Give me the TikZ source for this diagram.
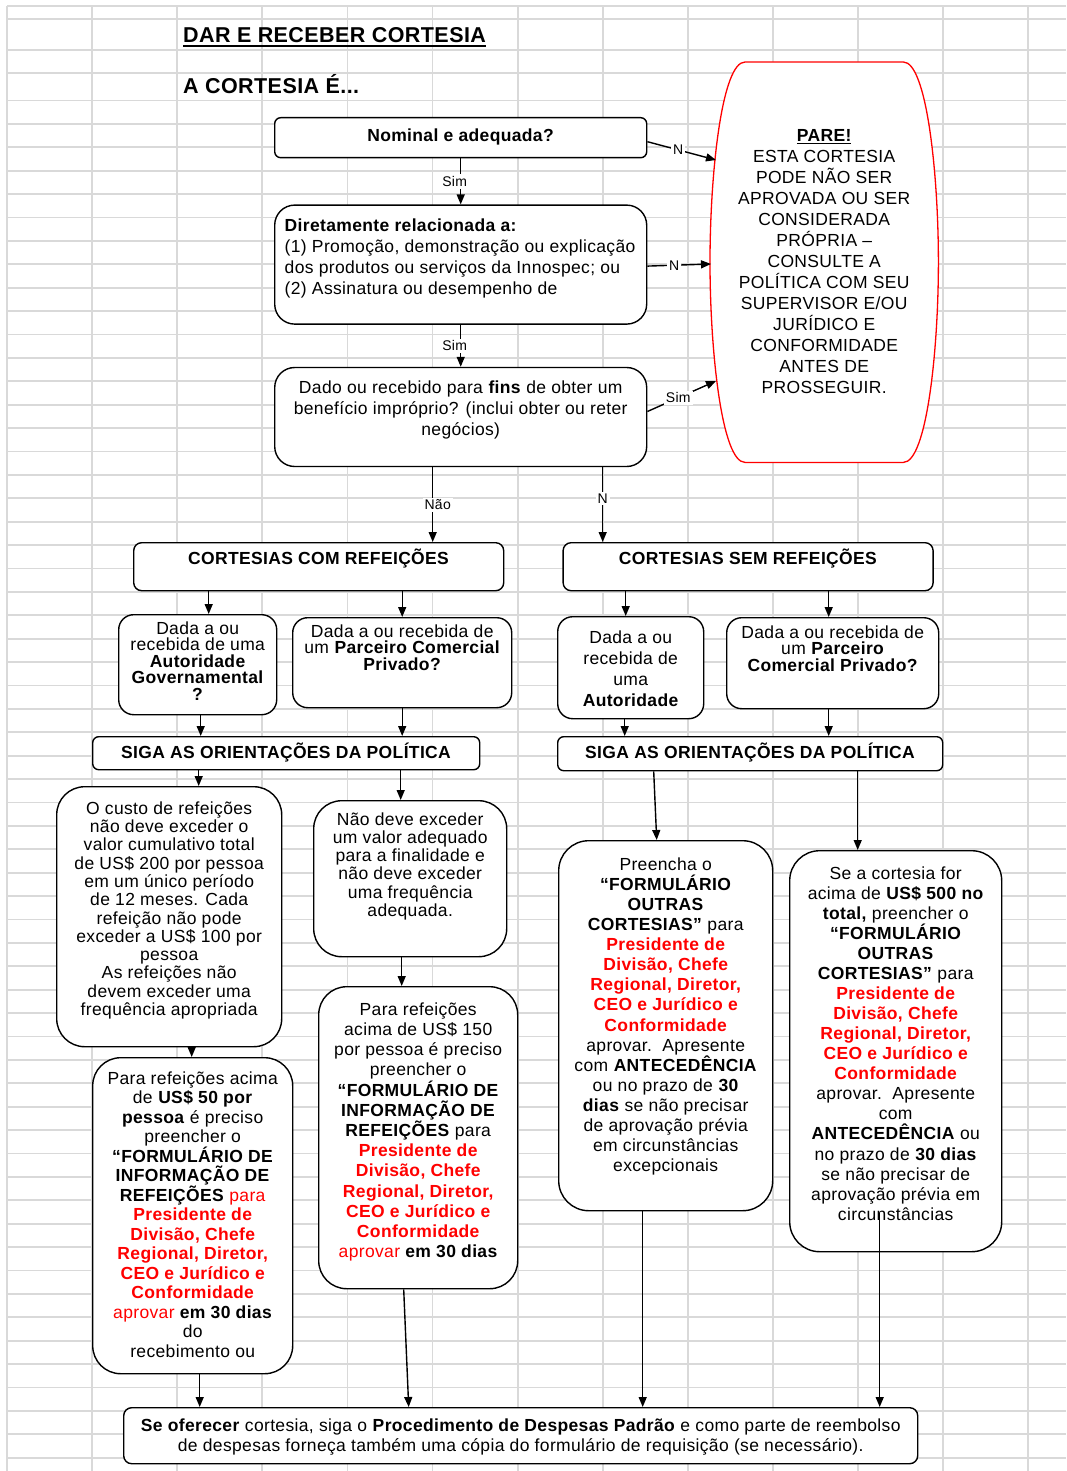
\documentclass[tikz,border=0pt]{standalone}
\usepackage{fontspec}
\setmainfont{Liberation Sans}[LetterSpace=2]
\usetikzlibrary{arrows.meta,positioning,backgrounds}

% text block of a box: width, height, top pad, leading
\newcommand{\boxtxt}[6][\centering]{%
  \parbox[c][#3pt][t]{#2pt}{\fontsize{17.5}{#5}\selectfont
    \lineskiplimit=-\maxdimen #1\vspace*{#4pt}\leavevmode\par #6\par}}
\newcommand{\rb}[1]{\textcolor{red}{\bfseries #1}}

\begin{document}
\begin{tikzpicture}[
    x=1pt, y=-1pt,
    box/.style={draw, line width=1.4pt, fill=white, inner sep=0pt, rounded corners=#1},
    box/.default=6pt,
    arrow/.style={-{Triangle[length=10pt,width=8pt]}, line width=1.4pt},
    lbl/.style={fill=white, inner sep=2pt, font=\fontsize{14}{14}\selectfont},
    gridline/.style={gray!30, line width=1.8pt},
    heading/.style={anchor=base west, inner sep=0pt, font=\fontsize{21.5}{24}\selectfont\bfseries}
]
\useasboundingbox (0,0) rectangle (1066,1471);

% Sheet grid
\begin{scope}[on background layer]
  \foreach \gx in {0,...,12}
    \draw[gridline] ({7+85.1*\gx},6) -- ({7+85.1*\gx},1471);
  \foreach \gy in {6,19,50,73}
    \draw[gridline] (7,\gy) -- (1066,\gy);
  \foreach \gr in {0,...,58}
    \draw[gridline] (7,{100.5+23.4*\gr}) -- (1066,{100.5+23.4*\gr});
\end{scope}

% Headings
\node[heading] (title) at (183,43) {DAR E RECEBER CORTESIA};
\draw[line width=2pt] ([yshift=-3pt]title.base west) -- ([yshift=-3pt]title.base east);
\node[heading] (intro) at (183,94) {A CORTESIA É...};

% Questions
\node[box, anchor=north west] (nominal) at (274,117)
  {\boxtxt{372}{40}{3.5}{20}{\textbf{Nominal e adequada?}}};
\node[box=20pt, below=46pt of nominal] (relac)
  {\boxtxt[\raggedright\leftskip=10pt]{372}{119}{5.5}{21}{\textbf{Diretamente relacionada a:}\\
   (1) Promoção, demonstração ou explicação\\
   dos produtos ou serviços da Innospec; ou\\
   (2) Assinatura ou desempenho de}};
\node[box=20pt, below=42pt of relac] (fins)
  {\boxtxt{372}{99}{4.5}{21}{Dado ou recebido para \textbf{fins} de obter um\\
   benefício impróprio? (inclui obter ou reter\\ negócios)}};

% Stop
\node[anchor=north west, inner sep=0pt] (pare) at (710,62)
  {\boxtxt{228}{400}{58.5}{21}{\textbf{\underline{PARE!}}\\ ESTA CORTESIA\\ PODE NÃO SER\\
   APROVADA OU SER\\ CONSIDERADA\\ PRÓPRIA –\\ CONSULTE A\\ POLÍTICA COM SEU\\
   SUPERVISOR E/OU\\ JURÍDICO E\\ CONFORMIDADE\\ ANTES DE\\ PROSSEGUIR.}};
\begin{scope}[on background layer]
\draw[red, line width=1.3pt, fill=white]
  ([xshift=35pt]pare.north west) -- ([xshift=-35pt]pare.north east)
  .. controls ([xshift=-12pt]pare.north east) and ([yshift=90pt]pare.east) .. (pare.east)
  .. controls ([yshift=-90pt]pare.east) and ([xshift=-12pt]pare.south east) .. ([xshift=-35pt]pare.south east)
  -- ([xshift=35pt]pare.south west)
  .. controls ([xshift=12pt]pare.south west) and ([yshift=-90pt]pare.west) .. (pare.west)
  .. controls ([yshift=90pt]pare.west) and ([xshift=12pt]pare.north west) .. cycle;
\end{scope}
\coordinate (pin1) at (716,160);
\coordinate (pin2) at (711,264);
\coordinate (pin3) at (716,381);

% Meals / other courtesies
\node[box=8pt, anchor=north west] (ccr) at (133,542)
  {\boxtxt{370}{48}{1.5}{20}{\textbf{CORTESIAS COM REFEIÇÕES}}};
\node[box=8pt, right=58pt of ccr] (csr)
  {\boxtxt{370}{48}{1.5}{20}{\textbf{CORTESIAS SEM REFEIÇÕES}}};

\node[box=15pt, anchor=north west] (govA) at (118,614)
  {\boxtxt{158}{100}{3}{16.5}{Dada a ou\\ recebida de uma\\ \textbf{Autoridade}\\ \textbf{Governamental}\\ \textbf{?}}};
\node[box=15pt, anchor=north west] (privA) at (292,617)
  {\boxtxt{219}{90}{3}{16.5}{Dada a ou recebida de\\ um \textbf{Parceiro Comercial}\\ \textbf{Privado?}}};
\node[box=15pt, anchor=north west] (govB) at (557,616)
  {\boxtxt{146}{102}{5.5}{21}{Dada a ou\\ recebida de\\ uma\\ \textbf{Autoridade}}};
\node[box=15pt, anchor=north west] (privB) at (726,617)
  {\boxtxt{212}{91}{4}{16.5}{Dada a ou recebida de\\ um \textbf{Parceiro}\\ \textbf{Comercial Privado?}}};

\node[box, anchor=north west] (sigaA) at (92,736)
  {\boxtxt{387}{33}{1.5}{20}{\textbf{SIGA AS ORIENTAÇÕES DA POLÍTICA}}};
\node[box, anchor=north west] (sigaB) at (557,736)
  {\boxtxt{385}{34}{1.5}{20}{\textbf{SIGA AS ORIENTAÇÕES DA POLÍTICA}}};

% Rules
\node[box=28pt, anchor=north west] (meal200) at (56,786)
  {\boxtxt{225}{260}{9.2}{18.3}{O custo de refeições\\ não deve exceder o\\ valor cumulativo total\\
   de US\$ 200 por pessoa\\ em um único período\\ de 12 meses. Cada\\ refeição não pode\\
   exceder a US\$ 100 por\\ pessoa\\ As refeições não\\ devem exceder uma\\ frequência apropriada}};
\node[box=28pt, anchor=north west] (mealok) at (313,800)
  {\boxtxt{193}{156}{6.3}{18.2}{Não deve exceder\\ um valor adequado\\ para a finalidade e\\
   não deve exceder\\ uma frequência\\ adequada.}};
\node[box=28pt, anchor=north west] (form50) at (92,1057)
  {\boxtxt{200}{316}{7}{19.5}{Para refeições acima\\ de \textbf{US\$ 50 por}\\ \textbf{pessoa} é preciso\\
   preencher o\\ \textbf{“FORMULÁRIO DE}\\ \textbf{INFORMAÇÃO DE}\\ \textbf{REFEIÇÕES} \textcolor{red}{para}\\
   \rb{Presidente de}\\ \rb{Divisão, Chefe}\\ \rb{Regional, Diretor,}\\ \rb{CEO e Jurídico e}\\
   \rb{Conformidade}\\ \textcolor{red}{aprovar} \textbf{em 30 dias}\\ do\\ recebimento ou}};
\node[box=28pt, anchor=north west] (form150) at (318,986)
  {\boxtxt{199}{302}{8.3}{20.2}{Para refeições\\ acima de US\$ 150\\ por pessoa é preciso\\
   preencher o\\ \textbf{“FORMULÁRIO DE}\\ \textbf{INFORMAÇÃO DE}\\ \textbf{REFEIÇÕES} para\\
   \rb{Presidente de}\\ \rb{Divisão, Chefe}\\ \rb{Regional, Diretor,}\\ \rb{CEO e Jurídico e}\\
   \rb{Conformidade}\\ \textcolor{red}{aprovar} \textbf{em 30 dias}}};
\node[box=30pt, anchor=north west] (other) at (558,840)
  {\boxtxt{214}{370}{9.4}{20.1}{Preencha o\\ \textbf{“FORMULÁRIO}\\ \textbf{OUTRAS}\\ \textbf{CORTESIAS”} para\\
   \rb{Presidente de}\\ \rb{Divisão, Chefe}\\ \rb{Regional, Diretor,}\\ \rb{CEO e Jurídico e}\\
   \rb{Conformidade}\\ aprovar.\ \ Apresente\\ com \textbf{ANTECEDÊNCIA}\\ ou no prazo de \textbf{30}\\
   \textbf{dias} se não precisar\\ de aprovação prévia\\ em circunstâncias\\ excepcionais}};
\node[box=30pt, anchor=north west] (other500) at (789,850)
  {\boxtxt{212}{401}{8.4}{20.06}{Se a cortesia for\\ acima de \textbf{US\$ 500 no}\\ \textbf{total,} preencher o\\
   \textbf{“FORMULÁRIO}\\ \textbf{OUTRAS}\\ \textbf{CORTESIAS”} para\\
   \rb{Presidente de}\\ \rb{Divisão, Chefe}\\ \rb{Regional, Diretor,}\\ \rb{CEO e Jurídico e}\\
   \rb{Conformidade}\\ aprovar.\ \ Apresente\\ com\\ \textbf{ANTECEDÊNCIA} ou\\ no prazo de \textbf{30 dias}\\
   se não precisar de\\ aprovação prévia em\\ circunstâncias}};

% Final step
\node[box=8pt, anchor=north west] (fin) at (123,1407)
  {\boxtxt{794}{56}{3.5}{20}{\textbf{Se oferecer} cortesia, siga o \textbf{Procedimento de Despesas Padrão} e como parte de reembolso\\
   de despesas forneça também uma cópia do formulário de requisição (se necessário).}};

% Arrows
\draw[arrow] (nominal) -- node[lbl, xshift=-6pt]{Sim} (relac);
\draw[arrow] (relac) -- node[lbl, xshift=-6pt]{Sim} (fins);
\draw[arrow] ([xshift=-28pt]fins.south) -- node[lbl, xshift=5pt]{Não} ([xshift=-28pt]fins.south |- ccr.north);
\draw[arrow] ([xshift=142pt]fins.south) -- node[lbl, pos=0.42]{N} ([xshift=142pt]fins.south |- csr.north);
\draw[arrow] ([yshift=-4pt]nominal.east) -- node[lbl, pos=0.45]{N} (pin1);
\draw[arrow] ([yshift=-1.5pt]relac.east) -- node[lbl, pos=0.42]{N} (pin2);
\draw[arrow] ([yshift=5.5pt]fins.east) -- node[lbl, pos=0.45]{Sim} (pin3);

\draw[arrow] ([xshift=11pt]govA.north |- ccr.south) -- ([xshift=11pt]govA.north);
\draw[arrow] (privA.north |- ccr.south) -- (privA.north);
\draw[arrow] ([xshift=-5pt]govB.north |- csr.south) -- ([xshift=-5pt]govB.north);
\draw[arrow] ([xshift=-4pt]privB.north |- csr.south) -- ([xshift=-4pt]privB.north);
\draw[arrow] ([xshift=3pt]govA.south) -- ([xshift=3pt]govA.south |- sigaA.north);
\draw[arrow] (privA.south) -- (privA.south |- sigaA.north);
\draw[arrow] ([xshift=-6pt]govB.south) -- ([xshift=-6pt]govB.south |- sigaB.north);
\draw[arrow] ([xshift=-4pt]privB.south) -- ([xshift=-4pt]privB.south |- sigaB.north);

\draw[arrow] ([xshift=29.5pt]meal200.north |- sigaA.south) -- ([xshift=29.5pt]meal200.north);
\draw[arrow] ([xshift=-9.5pt]mealok.north |- sigaA.south) -- ([xshift=-9.5pt]mealok.north);
\draw[arrow] ([xshift=-1pt]form50.north |- meal200.south) -- ([xshift=-1pt]form50.north);
\draw[arrow] ([xshift=-16.5pt]form150.north |- mealok.south) -- ([xshift=-16.5pt]form150.north);
\draw[arrow] ([xshift=-96.5pt]sigaB.south) -- ([xshift=-9pt]other.north);
\draw[arrow] ([xshift=-38pt]other500.north |- sigaB.south) -- ([xshift=-38pt]other500.north);

\draw[arrow] ([xshift=7pt]form50.south) -- ([xshift=7pt]form50.south |- fin.north);
\draw[arrow] ([xshift=-14.5pt]form150.south) -- ([xshift=-112pt]fin.north);
\draw[arrow] ([xshift=-23pt]other.south) -- ([xshift=-23pt]other.south |- fin.north);
\draw[arrow] ([xshift=-16pt,yshift=39pt]other500.south) -- ([xshift=-16pt]other500.south |- fin.north);
\end{tikzpicture}
\end{document}
